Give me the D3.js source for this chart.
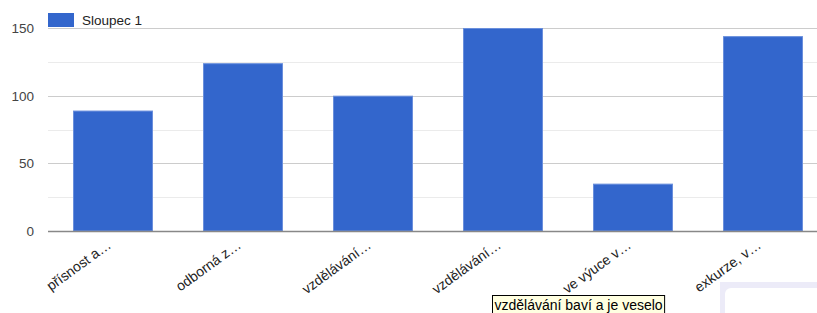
<!DOCTYPE html>
<html><head><meta charset="utf-8">
<script src="https://cdn.jsdelivr.net/npm/d3@7"></script>
<style>body{margin:0;background:#fff;overflow:hidden}svg{display:block;font-family:Arial,"Liberation Sans",sans-serif}</style>
</head><body>
<script>
const categories = ["přísnost a…","odborná z…","vzdělávání…","vzdělávání…","ve výuce v…","exkurze, v…"];
const values = [89, 124, 100, 150, 35, 144];
const seriesName = "Sloupec 1";
const yTicks = [0, 50, 100, 150];
const yMinor = [25, 75, 125];
const tooltipText = "vzdělávání baví a je veselo";

const W = 817, H = 313;
const svg = d3.select("body").append("svg").attr("width", W).attr("height", H);

const x = d3.scaleBand().domain(d3.range(categories.length)).range([48, 828]).paddingInner(0.385).paddingOuter(0.1925);
const y = d3.scaleLinear().domain([0, 150]).range([231, 28]);

// gridlines
svg.append("g").selectAll("line").data(yMinor).join("line")
  .attr("x1", 48).attr("x2", W).attr("y1", d => Math.round(y(d)) + 0.5).attr("y2", d => Math.round(y(d)) + 0.5)
  .attr("stroke", "#ebebeb").attr("stroke-width", 1);
svg.append("g").selectAll("line").data(yTicks.filter(d => d > 0)).join("line")
  .attr("x1", 48).attr("x2", W).attr("y1", d => Math.round(y(d)) + 0.5).attr("y2", d => Math.round(y(d)) + 0.5)
  .attr("stroke", "#cccccc").attr("stroke-width", 1);

// y labels
svg.append("g").selectAll("text").data(yTicks).join("text")
  .attr("x", 34).attr("y", d => y(d) + 5).attr("text-anchor", "end")
  .attr("font-size", 13.5).attr("fill", "#444").text(d => d);

// bars
svg.append("g").selectAll("rect").data(values).join("rect")
  .attr("x", (d, i) => x(i) + 0.5).attr("width", x.bandwidth() - 1)
  .attr("y", d => y(d) + 0.5).attr("height", d => y(0) - y(d) - 0.5)
  .attr("fill", "#3366cc").attr("stroke", "#6a8fdc").attr("stroke-width", 1);

// baseline
svg.append("line").attr("x1", 48).attr("x2", W).attr("y1", y(0) + 0.5).attr("y2", y(0) + 0.5)
  .attr("stroke", "#888").attr("stroke-width", 1.5);

// x labels
svg.append("g").selectAll("text").data(categories).join("text")
  .attr("transform", (d, i) => `translate(${x(i) + x.bandwidth() / 2 - 1},${247}) rotate(-36)`)
  .attr("text-anchor", "end").attr("font-size", 14).attr("fill", "#222").text(d => d);

// legend
svg.append("rect").attr("x", 48).attr("y", 13).attr("width", 26).attr("height", 14).attr("fill", "#3366cc");
svg.append("text").attr("x", 82).attr("y", 25).attr("font-size", 13.5).attr("fill", "#222").text(seriesName);

// bottom-right panel
svg.append("rect").attr("x", 720).attr("y", 282).attr("width", 120).attr("height", 60).attr("fill", "#ecebf8");
svg.append("rect").attr("x", 725).attr("y", 288).attr("width", 120).attr("height", 60).attr("rx", 6).attr("fill", "#fff");

// tooltip
const tip = svg.append("g");
const tipRect = tip.append("rect").attr("x", 492.5).attr("y", 295.5).attr("height", 22)
  .attr("fill", "#ffffe1").attr("stroke", "#000").attr("stroke-width", 1);
const tipText = tip.append("text").attr("x", 494.5).attr("y", 309.5).attr("font-size", 14).attr("fill", "#000").text(tooltipText);
const tl = tipText.node().getComputedTextLength();
tipRect.attr("width", Math.max(168, tl + 4));
</script>
</body></html>
